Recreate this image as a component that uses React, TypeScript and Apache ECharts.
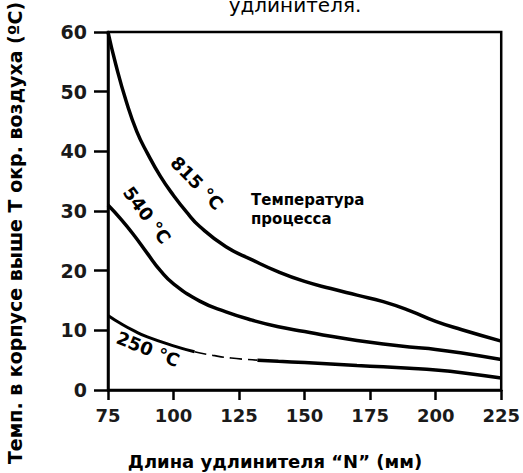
import React, { useEffect, useRef } from "react";
import * as echarts from "echarts";

// Length of extension N (mm)
const x815 = [75, 78, 82, 86, 90, 95, 100, 105, 110, 120, 130, 140, 150, 160, 170, 180, 190, 200, 210, 225];
const y815 = [60, 54.5, 48.3, 43.3, 39.7, 35.8, 32.6, 29.8, 27.4, 24, 21.8, 19.8, 18.2, 17.0, 15.9, 14.8, 13.3, 11.5, 10.1, 8.2];

const x540 = [75, 80, 85, 90, 95, 100, 110, 120, 130, 140, 150, 160, 170, 180, 190, 200, 210, 225];
const y540 = [31, 28.6, 25.9, 22.9, 20.0, 17.8, 14.9, 13.1, 11.7, 10.6, 9.8, 9.0, 8.3, 7.7, 7.2, 6.8, 6.2, 5.1];

// 250 °C curve: solid, dashed middle part, solid
const x250a = [75, 80, 85, 90, 100, 108];
const y250a = [12.5, 11.1, 9.9, 8.9, 7.4, 6.4];
const x250b = [108, 115, 122, 132];
const y250b = [6.4, 5.8, 5.35, 5.0];
const x250c = [132, 140, 150, 160, 170, 180, 190, 200, 210, 225];
const y250c = [5.0, 4.8, 4.6, 4.35, 4.1, 3.9, 3.65, 3.35, 2.9, 2.0];

const xTicks = [75, 100, 125, 150, 175, 200, 225];
const yTicks = [0, 10, 20, 30, 40, 50, 60];

const xName = "Длина удлинителя “N” (мм)";
const yName = "Темп. в корпусе выше T окр. воздуха (ºC)";

const pairs = (xs: number[], ys: number[]) => xs.map((x, i) => [x, ys[i]]);

export default function App() {
  const ref = useRef<HTMLDivElement>(null);
  useEffect(() => {
    if (!ref.current) return;
    const chart = echarts.init(ref.current, undefined, { renderer: "svg" });
    const lineBase = {
      type: "line" as const,
      showSymbol: false,
      symbol: "none",
      smooth: 0.5,
      silent: true,
    };
    const font = "DejaVu Sans";
    chart.setOption({
      animation: false,
      backgroundColor: "#ffffff",
      textStyle: { fontFamily: font },
      grid: {
        left: 108,
        right: 20,
        top: 32,
        bottom: 83,
        show: true,
        borderColor: "#000",
        borderWidth: 2.5,
        backgroundColor: "transparent",
      },
      xAxis: {
        type: "value",
        min: xTicks[0],
        max: xTicks[xTicks.length - 1],
        interval: 25,
        axisLine: { show: true, onZero: false, lineStyle: { color: "#000", width: 2.5 } },
        axisTick: { show: true, inside: false, length: 10, lineStyle: { color: "#000", width: 2.5 } },
        splitLine: { show: false },
        axisLabel: {
          margin: 16,
          fontFamily: font,
          fontWeight: "bold",
          fontSize: 18,
          color: "#1a1a1a",
          showMinLabel: true,
          showMaxLabel: true,
        },
      },
      yAxis: {
        type: "value",
        min: yTicks[0],
        max: yTicks[yTicks.length - 1],
        interval: 10,
        axisLine: { show: true, onZero: false, lineStyle: { color: "#000", width: 2.5 } },
        axisTick: { show: true, inside: false, length: 14, lineStyle: { color: "#000", width: 2.5 } },
        splitLine: { show: false },
        axisLabel: {
          margin: 21,
          fontFamily: font,
          fontWeight: "bold",
          fontSize: 19,
          color: "#1a1a1a",
        },
      },
      series: [
        { ...lineBase, name: "815 °C", data: pairs(x815, y815), lineStyle: { color: "#000", width: 3.5 } },
        { ...lineBase, name: "540 °C", data: pairs(x540, y540), lineStyle: { color: "#000", width: 3.5 } },
        { ...lineBase, name: "250 °C", data: pairs(x250a, y250a), lineStyle: { color: "#000", width: 3 } },
        { ...lineBase, name: "250 °C dashed", data: pairs(x250b, y250b), lineStyle: { color: "#000", width: 1.6, type: [12, 6] } },
        { ...lineBase, name: "250 °C end", data: pairs(x250c, y250c), lineStyle: { color: "#000", width: 3.5 } },
      ],
      graphic: [
        {
          type: "text",
          x: 295,
          y: 15,
          style: { text: "удлинителя.", font: `20px '${font}'`, fill: "#000", align: "center", verticalAlign: "bottom" },
        },
        {
          type: "text",
          x: 15,
          y: 233,
          rotation: Math.PI / 2,
          style: { text: yName, font: `bold 19px '${font}'`, fill: "#000", align: "center", verticalAlign: "middle" },
        },
        {
          type: "text",
          x: 275,
          y: 461,
          style: { text: xName, font: `bold 18px '${font}'`, fill: "#000", align: "center", verticalAlign: "middle" },
        },
        {
          type: "text",
          x: 197,
          y: 183,
          rotation: -0.8,
          style: { text: "815 °C", font: `bold 18px '${font}'`, fill: "#000", align: "center", verticalAlign: "middle" },
        },
        {
          type: "text",
          x: 147,
          y: 215,
          rotation: -0.93,
          style: { text: "540 °C", font: `bold 18px '${font}'`, fill: "#000", align: "center", verticalAlign: "middle" },
        },
        {
          type: "text",
          x: 148,
          y: 349,
          rotation: -0.38,
          style: { text: "250 °C", font: `bold 18px '${font}'`, fill: "#000", align: "center", verticalAlign: "middle" },
        },
        {
          type: "text",
          x: 251,
          y: 190,
          style: {
            text: "Температура\nпроцесса",
            font: `bold 15px '${font}'`,
            fill: "#000",
            lineHeight: 19,
          },
        },
      ],
    });
    return () => chart.dispose();
  }, []);
  return <div ref={ref} style={{ position: "fixed", left: 0, top: 0, width: 523, height: 473 }} />;
}
